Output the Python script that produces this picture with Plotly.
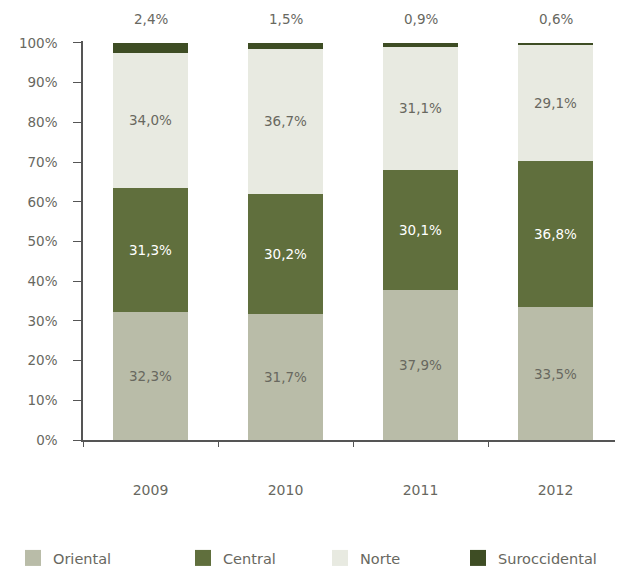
import plotly.graph_objects as go

years = ["2009", "2010", "2011", "2012"]
oriental = [32.3, 31.7, 37.9, 33.5]
central = [31.3, 30.2, 30.1, 36.8]
norte = [34.0, 36.7, 31.1, 29.1]
suroccidental = [2.4, 1.5, 0.9, 0.6]
y_ticks = [0, 10, 20, 30, 40, 50, 60, 70, 80, 90, 100]


def fmt(v):
    return f"{v:.1f}".replace(".", ",") + "%"


FONT = "DejaVu Sans, Liberation Sans, Arial"
GRAY = "#68685f"

series = [
    ("Oriental", oriental, "#b9bca8", GRAY, True, "legend"),
    ("Central", central, "#606f3d", "#ffffff", True, "legend2"),
    ("Norte", norte, "#e8eae1", GRAY, True, "legend3"),
    ("Suroccidental", suroccidental, "#3e4d24", GRAY, False, "legend4"),
]

W, H = 615, 560

fig = go.Figure()
for name, vals, color, tcol, show, lg in series:
    fig.add_trace(go.Bar(
        name=name, x=years, y=vals, showlegend=False,
        marker=dict(color=color, line=dict(width=0)),
        text=[fmt(v) for v in vals] if show else None,
        textposition="inside", insidetextanchor="middle",
        textfont=dict(color=tcol, size=13.5, family=FONT),
        constraintext="none", hoverinfo="skip",
    ))
# legend entries (square swatches)
for name, vals, color, tcol, show, lg in series:
    fig.add_trace(go.Scatter(
        name=name, x=[None], y=[None], mode="markers", legend=lg,
        marker=dict(symbol="square", size=18, color=color, line=dict(width=0)),
        showlegend=True, hoverinfo="skip",
    ))

# top labels for the Suroccidental share (category index positions)
for i, s in enumerate(suroccidental):
    fig.add_annotation(x=i, y=100, text=fmt(s), showarrow=False,
                       yanchor="bottom", yshift=14,
                       font=dict(color=GRAY, size=13.5, family=FONT))

leg_common = dict(orientation="h", xref="container", xanchor="left",
                  yref="container", y=10 / H, yanchor="middle",
                  itemsizing="trace",
                  font=dict(size=14.5, color=GRAY, family=FONT),
                  bgcolor="rgba(0,0,0,0)")
fig.update_layout(
    barmode="stack", bargap=0.44,
    width=W, height=H,
    margin=dict(l=75, r=0, t=33, b=128),
    plot_bgcolor="white", paper_bgcolor="white",
    font=dict(family=FONT, size=13.5, color=GRAY),
    showlegend=True,
    legend=dict(x=5 / W, **leg_common),
    legend2=dict(x=175 / W, **leg_common),
    legend3=dict(x=312 / W, **leg_common),
    legend4=dict(x=450 / W, **leg_common),
)
fig.update_xaxes(
    type="category", range=[-0.5, 3.5], automargin=False,
    showline=True, linecolor="#555555", linewidth=1.5,
    ticks="outside", tickson="boundaries", ticklen=5, tickcolor="#555555",
    ticklabelstandoff=36, showgrid=False,
    tickfont=dict(size=14, family=FONT, color=GRAY),
)
fig.update_yaxes(
    range=[0, 100.5], tickvals=y_ticks, ticktext=[f"{v}%" for v in y_ticks],
    automargin=False,
    showline=True, linecolor="#555555", linewidth=1.5,
    ticks="outside", ticklen=8, tickcolor="#555555", ticklabelstandoff=13,
    showgrid=False, zeroline=False,
    tickfont=dict(size=13.5, family=FONT, color=GRAY),
)

fig.write_html("out.html")
